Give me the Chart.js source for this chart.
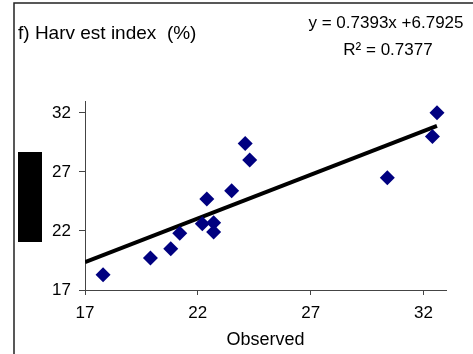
<!DOCTYPE html>
<html>
<head>
<meta charset="utf-8">
<script src="https://cdn.jsdelivr.net/npm/chart.js@4.4.1/dist/chart.umd.min.js"></script>
<style>
html, body { margin: 0; padding: 0; background: #fff; }
canvas { display: block; }
</style>
</head>
<body>
<canvas id="myChart" width="473" height="354"></canvas>
<script>
// harvest index (%), observed vs predicted
var observed  = [17.8, 19.9, 20.8, 21.2, 22.2, 22.7, 22.7, 22.4, 23.5, 24.1, 24.3, 30.4, 32.4, 32.6];
var predicted = [18.3, 19.7, 20.5, 21.8, 22.6, 22.7, 21.9, 24.7, 25.4, 29.4, 28.0, 26.5, 30.0, 32.0];
var xTicks = [17, 22, 27, 32];
var yTicks = [17, 22, 27, 32];
var slope = 0.7393;
var intercept = 6.7925;
var rSquared = 0.7377;

var FONT = "'Liberation Sans', Arial, sans-serif";

var points = observed.map(function(v, i) { return {x: v, y: predicted[i]}; });
var xEnd = Math.max.apply(null, observed);
var trend = [
  {x: xTicks[0], y: slope * xTicks[0] + intercept},
  {x: xEnd, y: slope * xEnd + intercept}
];

var framePlugin = {
  id: 'frame',
  beforeDraw: function(chart) {
    var c = chart.ctx;
    c.save();
    c.fillStyle = '#fff';
    c.fillRect(0, 0, chart.width, chart.height);
    c.strokeStyle = '#222';
    c.lineWidth = 1.5;
    c.beginPath();
    c.moveTo(14, chart.height);
    c.lineTo(14, 3);
    c.lineTo(chart.width, 3);
    c.stroke();
    c.restore();
  },
  afterDraw: function(chart) {
    var c = chart.ctx;
    c.save();
    c.fillStyle = '#000';
    c.textBaseline = 'middle';
    c.font = '19px ' + FONT;
    c.textAlign = 'left';
    c.fillText('f) Harv est index  (%)', 18, 34);
    c.font = '17px ' + FONT;
    c.textAlign = 'center';
    c.fillText('y = ' + slope.toFixed(4) + 'x +' + intercept.toFixed(4), 386, 23);
    c.fillText('R\u00B2 = ' + rSquared.toFixed(4), 388, 50);
    // covered axis title box
    c.fillRect(18, 152, 24, 90);
    c.restore();
  }
};

var ctx = document.getElementById('myChart');
var myChart = new Chart(ctx, {
  type: 'scatter',
  data: {
    datasets: [{
      data: points,
      pointStyle: 'rectRot',
      pointRadius: 7.5,
      pointHoverRadius: 7.5,
      backgroundColor: '#000080',
      borderColor: '#000080',
      borderWidth: 0,
      order: 0
    }, {
      type: 'line',
      data: trend,
      borderColor: '#000',
      borderWidth: 4,
      pointRadius: 0,
      fill: false,
      order: 1
    }]
  },
  options: {
    responsive: false,
    animation: false,
    devicePixelRatio: 1,
    layout: { padding: { left: 0, top: 101, right: 27, bottom: 0 } },
    plugins: { legend: { display: false }, tooltip: { enabled: false } },
    scales: {
      x: {
        type: 'linear',
        min: 17,
        max: 33,
        afterBuildTicks: function(s) { s.ticks = xTicks.map(function(v) { return {value: v}; }); },
        afterFit: function(s) { s.height = 64; },
        grid: { drawOnChartArea: false, tickLength: 5, color: '#444' },
        border: { color: '#444', width: 1 },
        ticks: { color: '#000', font: { family: FONT, size: 17 }, padding: 8, maxRotation: 0, autoSkip: false },
        title: { display: true, text: 'Observed', color: '#000', font: { family: FONT, size: 18 }, padding: { top: 0, bottom: 3 } }
      },
      y: {
        type: 'linear',
        min: 17,
        max: 33,
        afterBuildTicks: function(s) { s.ticks = yTicks.map(function(v) { return {value: v}; }); },
        afterFit: function(s) { s.width = 85; },
        grid: { drawOnChartArea: false, tickLength: 6, color: '#444' },
        border: { color: '#444', width: 1 },
        ticks: { color: '#000', font: { family: FONT, size: 17 }, padding: 8, autoSkip: false }
      }
    }
  },
  plugins: [framePlugin]
});
</script>
</body>
</html>
